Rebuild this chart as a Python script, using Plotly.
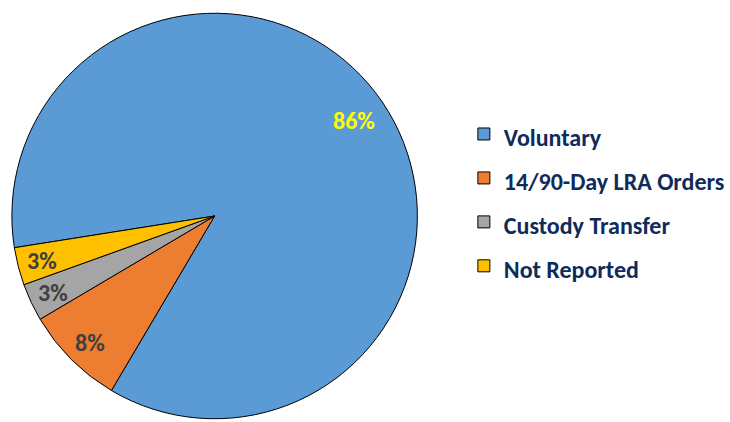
import math
import plotly.graph_objects as go

labels = ["Voluntary", "14/90-Day LRA Orders", "Custody Transfer", "Not Reported"]
values = [86, 8, 3, 3]
colors = ["#5B9BD5", "#ED7D31", "#A5A5A5", "#FFC000"]
text_colors = ["#FFFF00", "#404040", "#404040", "#404040"]
label_radius = [0.83, 0.87, 0.88, 0.88]   # style: fraction of radius for % labels

W, H = 730, 422
FONT = "Carlito, Lato, 'Liberation Sans', sans-serif"
LEG_SIZE = 31.5   # controls row spacing (44px)
TXT_SIZE = 24     # visible legend text size
ROTATION = 261

# pie domain (paper fractions)
dom_x = [12 / W, 422 / W]
dom_y = [1 / H, 411 / H]

legend_labels = [f'<span style="font-size:{TXT_SIZE}px">{l}</span>' for l in labels]

fig = go.Figure(go.Pie(
    labels=legend_labels,
    values=values,
    sort=False,
    direction="clockwise",
    rotation=ROTATION,
    marker=dict(colors=colors, line=dict(color="#000000", width=1)),
    textinfo="none",
    hoverinfo="skip",
    domain=dict(x=dom_x, y=dom_y),
))

# percentage labels placed along each slice's mid-angle
cx = (dom_x[0] + dom_x[1]) / 2 * W
cy = (dom_y[0] + dom_y[1]) / 2 * H
R = min((dom_x[1] - dom_x[0]) * W, (dom_y[1] - dom_y[0]) * H) / 2
total = sum(values)
start = ROTATION
for v, tc, fr in zip(values, text_colors, label_radius):
    span = 360 * v / total
    mid = math.radians(start + span / 2)
    start += span
    px = cx + fr * R * math.sin(mid)
    py = cy + fr * R * math.cos(mid)   # y up in paper coords
    fig.add_annotation(
        x=px / W, y=py / H, xref="paper", yref="paper",
        text=f"{round(100 * v / total)}%",
        showarrow=False, xanchor="center", yanchor="middle",
        font=dict(family=FONT, size=24, color=tc, weight="bold"),
    )

fig.update_layout(
    width=W, height=H,
    margin=dict(l=0, r=0, t=0, b=0),
    paper_bgcolor="white",
    plot_bgcolor="white",
    showlegend=True,
    legend=dict(
        x=469 / W, xanchor="left",
        y=1 - 107 / H, yanchor="top",
        font=dict(family=FONT, size=LEG_SIZE, color="#0F2B5B", weight="bold"),
        bgcolor="rgba(0,0,0,0)",
        borderwidth=0,
    ),
)

fig.write_html("out.html")
